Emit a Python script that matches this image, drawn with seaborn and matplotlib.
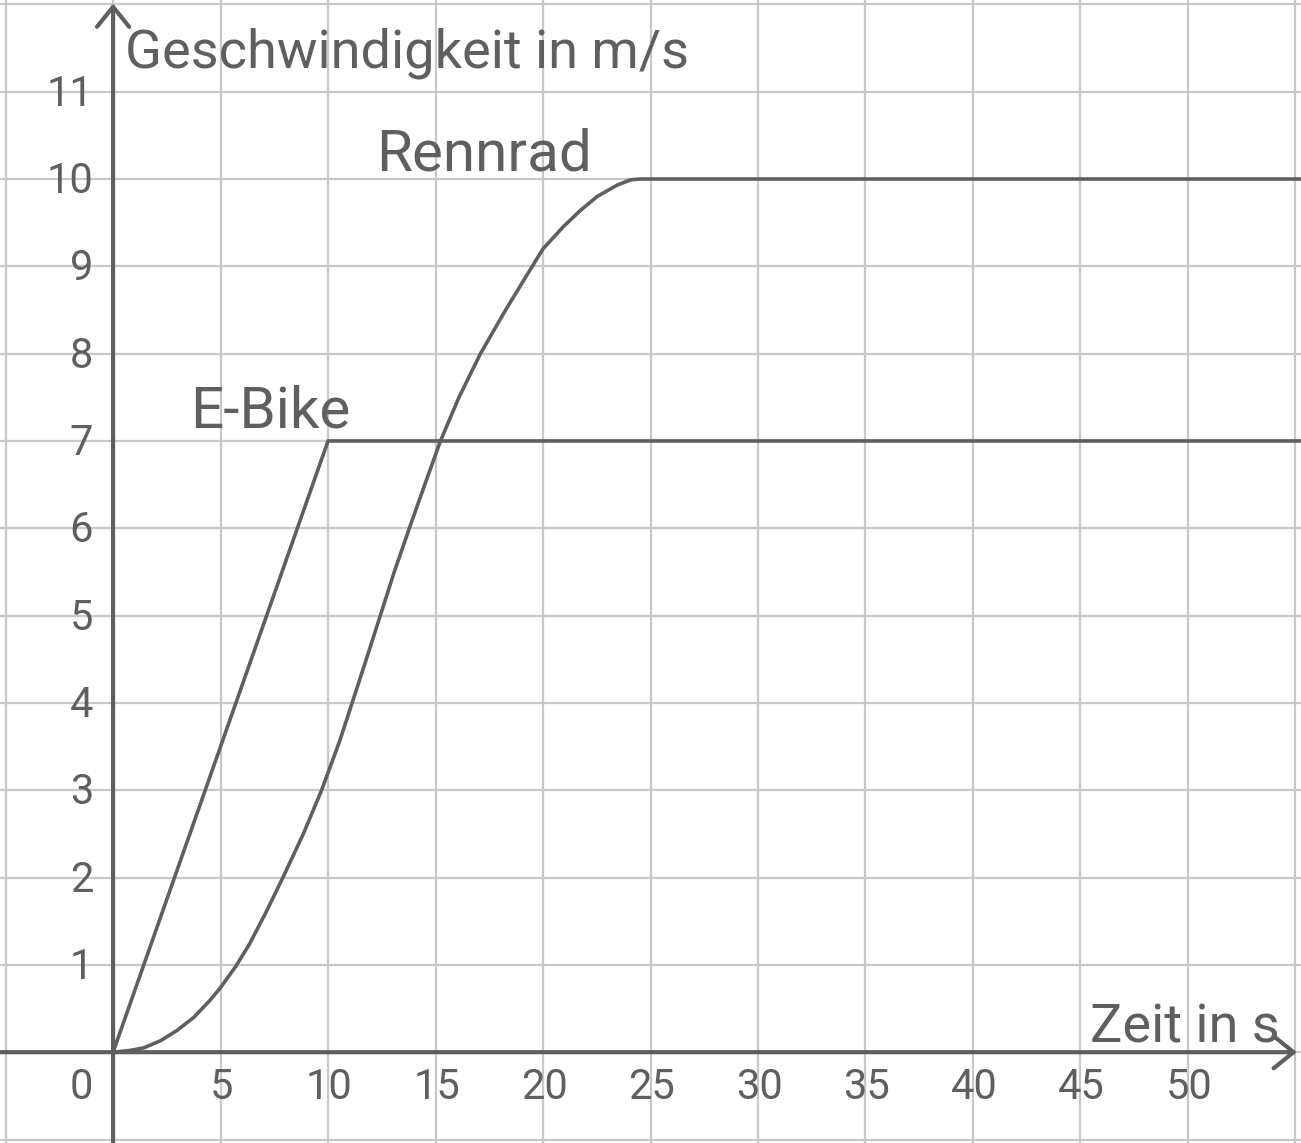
import numpy as np
import pandas as pd
import matplotlib
matplotlib.use("Agg")
import matplotlib.pyplot as plt
import seaborn as sns

# data
ebike_t = [0, 10, 55.3]
ebike_v = [0, 7, 7]

rennrad_t = [0, 0.8, 1.43, 2.2, 2.98, 3.76, 4.53, 5, 5.7, 6.35, 7.15, 7.9, 8.85,
             9.7, 10.55, 11.12, 11.78, 12.43, 13.08, 13.78, 14.5, 15.23, 16.09,
             17.09, 18.26, 19.5, 20, 20.97, 21.74, 22.52, 23.45, 24.07, 24.5, 55.3]
rennrad_v = [0, 0.02, 0.05, 0.13, 0.25, 0.4, 0.6, 0.74, 0.98, 1.24, 1.62, 2.0, 2.5,
             3.0, 3.57, 4.0, 4.5, 5.0, 5.5, 6.0, 6.5, 7.0, 7.5,
             8.0, 8.5, 9.0, 9.2, 9.46, 9.64, 9.8, 9.93, 9.99, 10, 10]

x_ticks = [5, 10, 15, 20, 25, 30, 35, 40, 45, 50]
y_ticks = [1, 2, 3, 4, 5, 6, 7, 8, 9, 10, 11]

INK = "#5f5f5f"
GRID = "#c8c8c8"

sns.set_theme(style="white")
plt.rcParams["font.family"] = ["Roboto", "DejaVu Sans"]

df = pd.concat([
    pd.DataFrame({"t": ebike_t, "v": ebike_v, "rad": "E-Bike"}),
    pd.DataFrame({"t": rennrad_t, "v": rennrad_v, "rad": "Rennrad"}),
])

fig = plt.figure(figsize=(13.01, 11.43), dpi=100)
ax = fig.add_axes([0, 0, 1, 1])
ax.set_xlim(-5.26, 55.26)
ax.set_ylim(-1.04, 12.05)

# grid
ax.set_xticks(np.arange(-5, 56, 5))
ax.set_yticks(np.arange(-1, 13, 1))
ax.tick_params(length=0, labelbottom=False, labelleft=False)
ax.grid(True, color=GRID, lw=1.6)
for s in ax.spines.values():
    s.set_visible(False)

sns.lineplot(data=df, x="t", y="v", units="rad", estimator=None, sort=False,
             color=INK, lw=2.6, ax=ax, legend=False)
for ln in ax.lines:
    ln.set_solid_joinstyle("round")
ax.set_xlabel("")
ax.set_ylabel("")

# axes with arrows
arrow = dict(arrowstyle="->,head_length=0.72,head_width=0.58", lw=3,
             color=INK, mutation_scale=20, shrinkA=0, shrinkB=0)
ax.annotate("", xy=(55.07, 0), xytext=(-5.3, 0), arrowprops=arrow)
ax.annotate("", xy=(0, 12.01), xytext=(0, -1.1), arrowprops=arrow)

fs = 30
for y in y_ticks:
    ax.text(-0.93, y - 0.03, str(y), ha="right", va="center", fontsize=fs, color=INK)
for x in x_ticks:
    ax.text(x + 0.05, -0.41, str(x), ha="center", va="center", fontsize=fs, color=INK)
ax.text(-0.93, -0.41, "0", ha="right", va="center", fontsize=fs, color=INK)

ax.text(0.56, 11.28, "Geschwindigkeit in m/s", ha="left", va="baseline",
        fontsize=39, color=INK)
ax.text(45.44, 0.115, "Zeit in s", ha="left", va="baseline", fontsize=39, color=INK)
ax.text(12.23, 10.1, "Rennrad", ha="left", va="baseline", fontsize=42, color=INK)
ax.text(3.58, 7.15, "E-Bike", ha="left", va="baseline", fontsize=42, color=INK)

fig.savefig("out.png", dpi=100)
